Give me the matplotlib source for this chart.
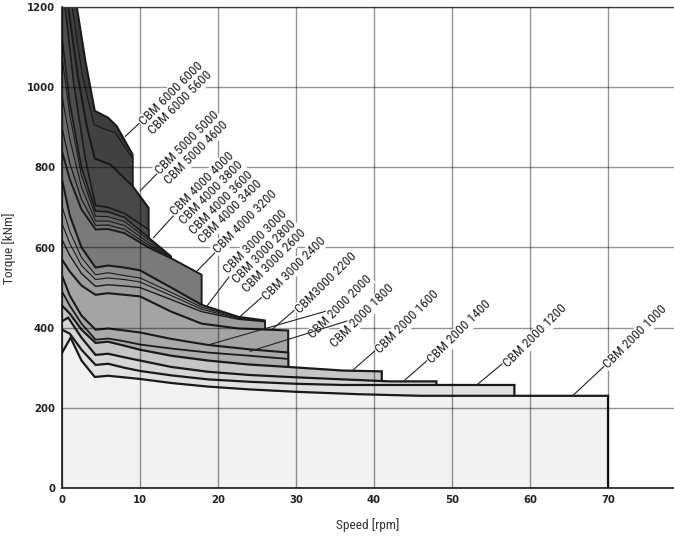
import matplotlib.pyplot as plt
from matplotlib import font_manager

# torque curves, (speed [rpm], torque [kNm])
cbm_6000_6000 = [(0, 1480), (1, 1330), (1.9, 1200), (3, 1065), (4.2, 941), (5.9, 924), (7, 903), (9.05, 832)]
cbm_6000_5600 = [(0, 1390), (1.3, 1200), (2.6, 1030), (4.1, 907), (5.5, 895), (6.8, 887), (9.05, 822)]
cbm_5000_5000 = [(0, 1300), (0.8, 1200), (2, 1030), (3.2, 900), (4.2, 822), (6.2, 807), (9.05, 753), (11.1, 699)]
cbm_5000_4600 = [(0, 1250), (0.4, 1200), (1.5, 1010), (3, 820), (4.3, 705), (5.9, 700), (8, 685), (11.1, 645)]
cbm_4000_4000 = [(0, 1125), (1, 960), (2.5, 800), (4.3, 691), (5.9, 689), (8, 675), (11.1, 625), (14, 578)]
cbm_4000_3800 = [(0, 1075), (1, 930), (2.5, 780), (4.3, 678), (5.9, 677), (8, 665), (11.1, 619), (14, 577)]
cbm_4000_3600 = [(0, 978), (1, 870), (2.5, 750), (4.3, 666), (5.9, 666), (8, 655), (11.1, 612), (14, 576)]
cbm_4000_3400 = [(0, 900), (1, 810), (2.5, 720), (4.3, 655), (5.9, 656), (8, 645), (11.1, 606), (14, 575)]
cbm_4000_3200 = [(0, 840), (1, 770), (2.5, 695), (4.3, 645), (5.9, 646), (8, 636), (11.1, 600), (14, 573), (17.9, 532)]
cbm_3000_3000 = [(0, 770), (1, 680), (2.5, 600), (4.3, 550), (5.9, 555), (8, 550), (10, 543), (14, 500), (17.9, 457), (22.6, 427), (26, 418)]
cbm_3000_2800 = [(0, 703), (1, 640), (2.5, 575), (4.3, 532), (5.9, 537), (8, 530), (10, 524), (14, 488), (17.9, 451), (22.6, 425), (26, 417)]
cbm_3000_2600 = [(0, 660), (1, 610), (2.5, 555), (4.3, 520), (5.9, 524), (8, 520), (10, 514), (14, 480), (17.9, 446), (22.6, 423), (26, 416)]
cbm_3000_2400 = [(0, 620), (1, 580), (2.5, 535), (4.3, 503), (5.9, 507), (8, 504), (10, 500), (14, 470), (17.9, 440), (22.6, 421), (26, 415)]
cbm_3000_2200 = [(0, 570), (1, 540), (2.5, 505), (4.3, 482), (5.9, 486), (8, 482), (10, 478), (14, 440), (17.9, 410), (22.6, 398), (29, 393)]
cbm_2000_2000 = [(0, 530), (1, 480), (2.5, 430), (4.3, 395), (5.9, 398), (8, 393), (10, 388), (14, 372), (18.7, 357), (24, 346), (29, 338)]
cbm_2000_1800 = [(0, 490), (1, 455), (2.5, 410), (4.3, 370), (5.9, 373), (8, 366), (10, 358), (14, 348), (18.7, 338), (24, 330), (29, 322)]
cbm_2000_1600 = [(0, 455), (1, 435), (2.5, 395), (4.3, 362), (5.9, 365), (8, 355), (10, 345), (14, 330), (18.7, 318), (24, 308), (29, 302), (36, 293), (41, 291)]
cbm_2000_1400 = [(0, 416), (0.8, 425), (2.5, 375), (4.3, 332), (5.9, 335), (8, 326), (10, 318), (14, 302), (18.7, 290), (24, 282), (29, 277), (36, 271), (42, 266), (48, 266)]
cbm_2000_1200 = [(0, 395), (1, 385), (2.5, 345), (4.3, 307), (5.9, 310), (8, 300), (10, 292), (14, 281), (18.7, 271), (24, 265), (30, 260), (36, 257), (58, 257)]
cbm_2000_1000 = [(0, 337), (1.1, 375), (2.5, 318), (4.2, 277), (5.9, 280), (8, 276), (10, 272), (14, 262), (18.7, 253), (24, 246), (30, 240), (38, 234), (46, 230), (70, 230)]

curves = [cbm_6000_6000, cbm_6000_5600, cbm_5000_5000, cbm_5000_4600,
          cbm_4000_4000, cbm_4000_3800, cbm_4000_3600, cbm_4000_3400, cbm_4000_3200,
          cbm_3000_3000, cbm_3000_2800, cbm_3000_2600, cbm_3000_2400, cbm_3000_2200,
          cbm_2000_2000, cbm_2000_1800, cbm_2000_1600, cbm_2000_1400, cbm_2000_1200, cbm_2000_1000]

fill_colors = ['#3c3c3c', '#414141', '#474747', '#4d4d4d',
               '#5e5e5e', '#666666', '#6e6e6e', '#747474', '#7a7a7a',
               '#8c8c8c', '#929292', '#979797', '#9c9c9c', '#a4a4a4',
               '#a9a9a9', '#adadad', '#c6c6c6', '#d6d6d6', '#e2e2e2', '#f2f2f2']
line_widths = [1.5, 0.9, 1.5, 1.2,
               1.2, 0.8, 0.8, 0.9, 1.4,
               1.5, 0.8, 0.8, 1.0, 1.5,
               1.5, 1.3, 1.6, 1.6, 1.6, 1.6]

label_texts = ["CBM 6000 6000\nCBM 6000 5600",
               "CBM 5000 5000\nCBM 5000 4600",
               "CBM 4000 4000\nCBM 4000 3800\nCBM 4000 3600\nCBM 4000 3400",
               "CBM 4000 3200",
               "CBM 3000 3000\nCBM 3000 2800\nCBM 3000 2600",
               "CBM 3000 2400",
               "CBM3000 2200",
               "CBM 2000 2000",
               "CBM 2000 1800",
               "CBM 2000 1600",
               "CBM 2000 1400",
               "CBM 2000 1200",
               "CBM 2000 1000"]
# leader start on the curve and text anchor, in data units
label_points = [(8.1, 877), (10.0, 741), (11.7, 624), (17.3, 541), (18.55, 453), (22.6, 424),
                (26.9, 395), (18.76, 357), (24.1, 341), (37.35, 295), (43.76, 266), (53.17, 257), (65.35, 228)]
label_anchors = [(10.0, 912), (12.1, 789), (14.05, 687), (19.5, 592), (20.84, 542), (25.78, 475),
                 (30.0, 442), (31.74, 380), (34.56, 357), (40.33, 342), (47.0, 317), (56.74, 307), (69.56, 305)]
line_step = 6.7  # points, down-right per extra label line

# pick a narrow face for the annotations if one is there
installed = {f.name for f in font_manager.fontManager.ttflist}
if 'Roboto Condensed' in installed:
    narrow, label_size = ['Roboto Condensed', 'DejaVu Sans'], 9.6
elif 'Liberation Sans Narrow' in installed:
    narrow, label_size = ['Liberation Sans Narrow', 'DejaVu Sans'], 10
elif 'DejaVu Sans Condensed' in installed:
    narrow, label_size = ['DejaVu Sans Condensed', 'DejaVu Sans'], 8.8
else:
    narrow, label_size = ['DejaVu Sans'], 7.9

fig = plt.figure(figsize=(6.74, 5.37), dpi=100)
ax = fig.add_axes([62 / 674, 49 / 537, 612 / 674, 481 / 537])

for pts, fc, lw in zip(curves, fill_colors, line_widths):
    xs = [p[0] for p in pts]
    ys = [p[1] for p in pts]
    end = xs[-1]
    ax.fill([0] + xs + [end], [0] + ys + [0], facecolor=fc, edgecolor='none', zorder=1)
    ax.plot(xs + [end], ys + [0], color='#1a1a1a', lw=lw, zorder=1, solid_joinstyle='miter')

ax.set_xlim(0, 78.46)
ax.set_ylim(0, 1200)
ax.set_xticks(range(0, 71, 10))
ax.set_yticks(range(0, 1201, 200))
ax.set_axisbelow(False)
ax.grid(True, color='black', alpha=0.42, lw=1.0)
ax.tick_params(length=0, labelsize=7.3, pad=5, colors='#222222')
for t in ax.get_xticklabels() + ax.get_yticklabels():
    t.set_fontweight('bold')
ax.spines['right'].set_visible(False)
ax.spines['top'].set_color('#666666')
ax.spines['top'].set_linewidth(1.0)
for side in ['left', 'bottom']:
    ax.spines[side].set_color('#1a1a1a')
    ax.spines[side].set_linewidth(1.2)

text_style = dict(rotation=45, rotation_mode='anchor', ha='left', va='center_baseline',
                  fontsize=label_size, family=narrow, color='#222222', zorder=4,
                  bbox=dict(boxstyle='square,pad=0.05', fc='white', ec='none'))
for txt, xy, xyt in zip(label_texts, label_points, label_anchors):
    rows = txt.split('\n')
    ax.annotate(rows[0], xy=xy, xytext=xyt,
                arrowprops=dict(arrowstyle='-', color='#222222', lw=0.8,
                                shrinkA=0, shrinkB=0),
                **text_style)
    for k, row in enumerate(rows[1:], start=1):
        ax.annotate(row, xy=xyt, xytext=(k * line_step, -k * line_step),
                    textcoords='offset points', **text_style)

fig.text(368 / 674, 1 - 525 / 537, 'Speed [rpm]', ha='center', va='center',
         fontsize=label_size, family=narrow, color='#333333')
fig.text(9 / 674, 1 - 248 / 537, 'Torque [kNm]', ha='center', va='center',
         rotation=90, fontsize=label_size, family=narrow, color='#333333')

fig.savefig('out.png', dpi=100)
